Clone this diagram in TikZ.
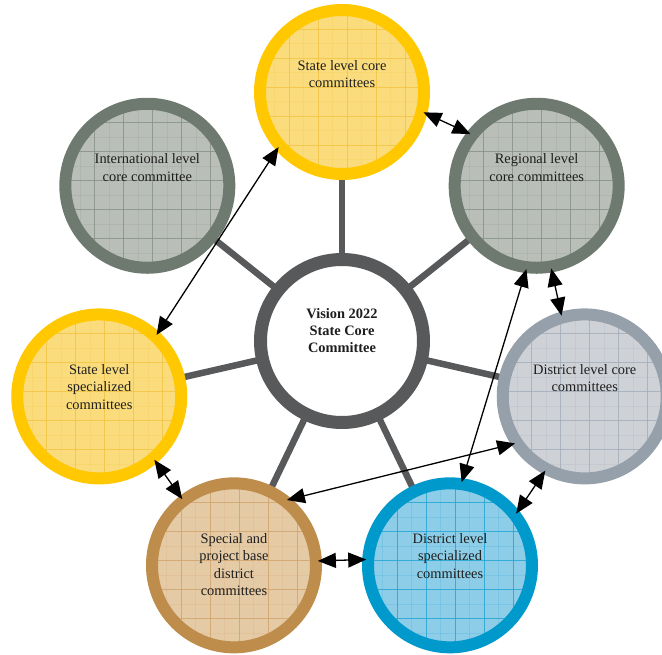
\documentclass[tikz,border=0pt]{standalone}
\usepackage{fontspec}
\setmainfont{Liberation Serif}
\usetikzlibrary{arrows.meta,backgrounds,calc}
\definecolor{ylwring}{HTML}{FFC800}
\definecolor{ylwfill}{HTML}{FADC7C}
\definecolor{ylwgrid}{HTML}{F2C440}
\definecolor{gryring}{HTML}{6E7A70}
\definecolor{gryfill}{HTML}{BABEB9}
\definecolor{grygrid}{HTML}{858F87}
\definecolor{bgyring}{HTML}{96A0AA}
\definecolor{bgyfill}{HTML}{CED1D6}
\definecolor{bgygrid}{HTML}{A3ADB8}
\definecolor{tanring}{HTML}{BE8C4B}
\definecolor{tanfill}{HTML}{E5CAA6}
\definecolor{tangrid}{HTML}{D0A36A}
\definecolor{bluring}{HTML}{0099CC}
\definecolor{blufill}{HTML}{8ECDE7}
\definecolor{blugrid}{HTML}{1FA3D4}
\definecolor{ctrring}{HTML}{58595B}
\definecolor{txtcol}{HTML}{1E1E1E}
\begin{document}
\begin{tikzpicture}[
  gridpic/.style={path picture={
    \foreach \k in {-3,...,3}{
      \draw[#1,line width=0.8pt,opacity=0.8] ($(path picture bounding box.center)+(\k*29pt+5pt,-95pt)$) -- ++(0pt,190pt);
      \draw[#1,line width=0.8pt,opacity=0.8] ($(path picture bounding box.center)+(-95pt,\k*29pt+5pt)$) -- ++(190pt,0pt);
      \draw[#1,line width=0.4pt,opacity=0.18] ($(path picture bounding box.center)+(\k*29pt+19.5pt,-95pt)$) -- ++(0pt,190pt);
      \draw[#1,line width=0.4pt,opacity=0.18] ($(path picture bounding box.center)+(-95pt,\k*29pt+19.5pt)$) -- ++(190pt,0pt);
    }}},
  bubble/.style n args={3}{circle, minimum size=164pt, inner sep=0pt, outer sep=2pt,
    line width=12pt, draw=#1, fill=#2, gridpic=#3},
  hub/.style={circle, minimum size=163pt, inner sep=0pt, outer sep=2pt,
    line width=13pt, draw=ctrring, fill=white},
  lbl/.style={align=center, inner sep=0pt, anchor=north, text=txtcol,
    font=\fontsize{14.4}{17.3}\selectfont},
  spoke/.style={draw=ctrring, line width=6.5pt},
  arr/.style={line width=1.3pt, black, {Triangle[length=18pt,width=15pt]}-{Triangle[length=18pt,width=15pt]}}
]
\clip (-342pt,-313pt) rectangle (320pt,341pt);

\node[hub] (C) at (0pt,0pt) {};
\node[bubble={ylwring}{ylwfill}{ylwgrid}] (T) at (90:249pt) {};
\node[bubble={gryring}{gryfill}{grygrid}] (R) at (38.57:249pt) {};
\node[bubble={bgyring}{bgyfill}{bgygrid}] (D) at (-12.86:249pt) {};
\node[bubble={bluring}{blufill}{blugrid}] (Q) at (-64.29:249pt) {};
\node[bubble={tanring}{tanfill}{tangrid}] (P) at (-115.71:249pt) {};
\node[bubble={ylwring}{ylwfill}{ylwgrid}] (S) at (-167.14:249pt) {};
\node[bubble={gryring}{gryfill}{grygrid}] (I) at (141.43:249pt) {};

\begin{scope}[on background layer]
  \foreach \n in {T,R,D,Q,P,S,I}{\draw[spoke] (C) -- (\n);}
\end{scope}

\node[lbl] (tC) at ([yshift=33pt]C.center) {\bfseries Vision 2022\\\bfseries State Core\\\bfseries Committee};
\node[lbl] (tT) at ([yshift=32pt]T.center) {State level core\\committees};
\node[lbl] (tR) at ([yshift=32pt]R.center) {Regional level\\core committees};
\node[lbl] (tD) at ([yshift=32pt]D.center) {District level core\\committees};
\node[lbl] (tQ) at ([yshift=32pt]Q.center) {District level\\specialized\\committees};
\node[lbl] (tP) at ([yshift=32pt]P.center) {Special and\\project base\\district\\committees};
\node[lbl] (tS) at ([yshift=32pt]S.center) {State level\\specialized\\committees};
\node[lbl] (tI) at ([yshift=32pt]I.center) {International level\\core committee};

\draw[arr] (T.-14.5) -- (R.142.6);
\draw[arr] (T.221.7) -- (S.47.4);
\draw[arr] (R.263.8) -- (Q.82.2);
\draw[arr] (R.-80.8) -- (D.106.1);
\draw[arr] (D.214) -- (P.51.4);
\draw[arr] (D.242.3) -- (Q.38.9);
\draw[arr] (S.-49.8) -- (P.128.5);
\draw[arr] (P.3.3) -- (Q.176.8);
\end{tikzpicture}
\end{document}
